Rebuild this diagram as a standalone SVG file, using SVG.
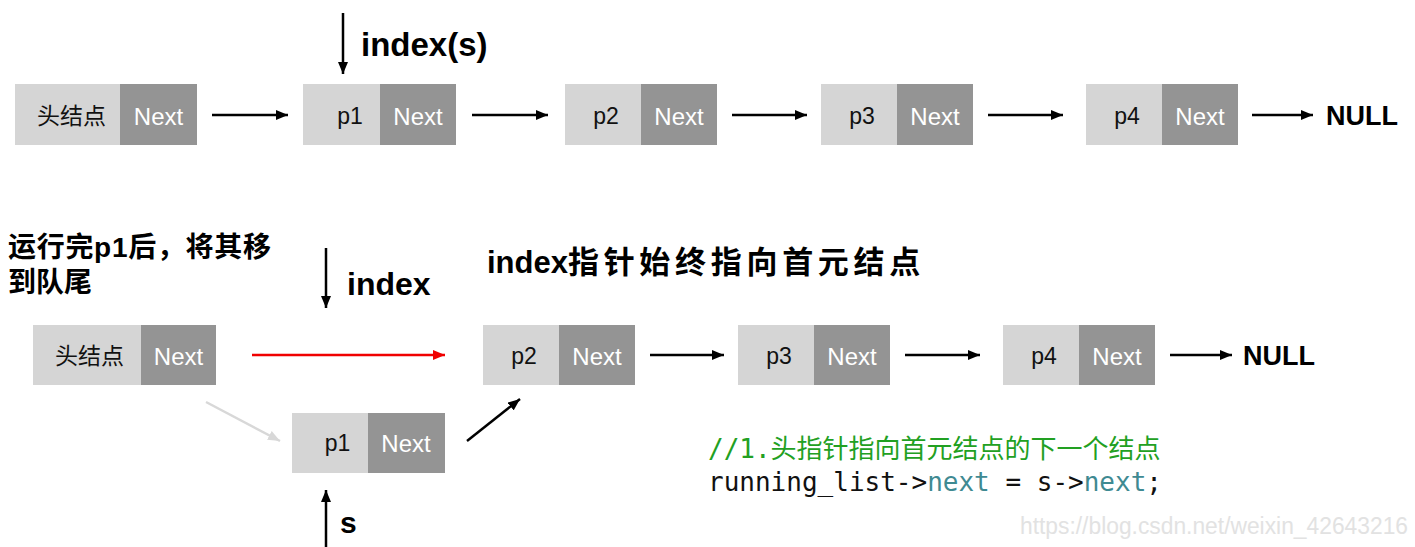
<svg xmlns="http://www.w3.org/2000/svg" width="1415" height="547" viewBox="0 0 1415 547">
<style>
.lt{fill:#d5d5d5}
.dk{fill:#949494}
.nx{font-family:"Liberation Sans",Arial,sans-serif;font-size:24px;fill:#ffffff;text-anchor:middle}
.pl{font-family:"Liberation Sans",Arial,sans-serif;font-size:23px;fill:#111;text-anchor:middle}
.hd{font-family:"Liberation Sans","Noto Sans CJK SC",sans-serif;font-size:23px;fill:#111;text-anchor:middle}
.bd{font-family:"Liberation Sans","Noto Sans CJK SC",sans-serif;font-weight:bold;fill:#000}
.ln{stroke:#000;stroke-width:2.5;fill:none}
.code{font-family:"DejaVu Sans Mono","Noto Sans CJK SC",monospace;font-size:26px}
</style>
<defs>
<marker id="ah" viewBox="0 0 12 10" refX="12" refY="5" markerWidth="12" markerHeight="10" markerUnits="userSpaceOnUse" orient="auto"><path d="M0,0 L12,5 L0,10 Z" fill="#000"/></marker>
<marker id="ahr" viewBox="0 0 12 10" refX="12" refY="5" markerWidth="12" markerHeight="10" markerUnits="userSpaceOnUse" orient="auto"><path d="M0,0 L12,5 L0,10 Z" fill="#f00000"/></marker>
<marker id="ahg" viewBox="0 0 12 10" refX="12" refY="5" markerWidth="12" markerHeight="10" markerUnits="userSpaceOnUse" orient="auto"><path d="M0,0 L12,5 L0,10 Z" fill="#d8d8d8"/></marker>
</defs>

<!-- Top row -->
<g id="top-head"><rect class="lt" x="15" y="84" width="105" height="61"/><rect class="dk" x="120" y="84" width="77" height="61"/><text class="hd" x="71.5" y="124">头结点</text><text class="nx" x="158.5" y="125">Next</text></g>
<g id="top-p1"><rect class="lt" x="303" y="84" width="77" height="61"/><rect class="dk" x="380" y="84" width="76" height="61"/><text class="pl" x="350" y="124">p1</text><text class="nx" x="418" y="125">Next</text></g>
<g id="top-p2"><rect class="lt" x="565" y="84" width="76" height="61"/><rect class="dk" x="641" y="84" width="76" height="61"/><text class="pl" x="606" y="124">p2</text><text class="nx" x="679" y="125">Next</text></g>
<g id="top-p3"><rect class="lt" x="821" y="84" width="76" height="61"/><rect class="dk" x="897" y="84" width="76" height="61"/><text class="pl" x="862" y="124">p3</text><text class="nx" x="935" y="125">Next</text></g>
<g id="top-p4"><rect class="lt" x="1086" y="84" width="76" height="61"/><rect class="dk" x="1162" y="84" width="76" height="61"/><text class="pl" x="1127" y="124">p4</text><text class="nx" x="1200" y="125">Next</text></g>
<g id="top-null"><text class="bd" x="1326" y="125" font-size="27">NULL</text></g>
<g id="top-index"><text class="bd" x="361" y="56" font-size="33">index(s)</text></g>

<!-- Bottom row -->
<g id="note"><text class="bd" x="8" y="257" font-size="28" letter-spacing="0.7">运行完p1后，将其移</text><text class="bd" x="8" y="292" font-size="28">到队尾</text></g>
<g id="title"><text class="bd" x="487" y="273" font-size="31">index<tspan letter-spacing="4.7">指针始终指向首元结点</tspan></text></g>
<g id="bot-index"><text class="bd" x="347" y="295" font-size="32">index</text></g>
<g id="bot-head"><rect class="lt" x="33" y="325" width="108" height="60"/><rect class="dk" x="141" y="325" width="75" height="60"/><text class="hd" x="89.5" y="364">头结点</text><text class="nx" x="178.5" y="365">Next</text></g>
<g id="bot-p2"><rect class="lt" x="483" y="325" width="76" height="60"/><rect class="dk" x="559" y="325" width="76" height="60"/><text class="pl" x="524" y="364">p2</text><text class="nx" x="597" y="365">Next</text></g>
<g id="bot-p3"><rect class="lt" x="738" y="325" width="76" height="60"/><rect class="dk" x="814" y="325" width="76" height="60"/><text class="pl" x="779" y="364">p3</text><text class="nx" x="852" y="365">Next</text></g>
<g id="bot-p4"><rect class="lt" x="1003" y="325" width="76" height="60"/><rect class="dk" x="1079" y="325" width="76" height="60"/><text class="pl" x="1044" y="364">p4</text><text class="nx" x="1117" y="365">Next</text></g>
<g id="bot-null"><text class="bd" x="1243" y="365" font-size="27">NULL</text></g>
<g id="bot-p1"><rect class="lt" x="292" y="413" width="76" height="60"/><rect class="dk" x="368" y="413" width="77" height="60"/><text class="pl" x="337.5" y="451">p1</text><text class="nx" x="406" y="452">Next</text></g>
<g id="bot-s"><text class="bd" x="340" y="533" font-size="30">s</text></g>

<g id="code">
<text class="code" x="708" y="458" fill="#22a022">//1.头指针指向首元结点的下一个结点</text>
<text class="code" x="708" y="491" fill="#111">running_list-&gt;<tspan fill="#3f8a92">next</tspan> = s-&gt;<tspan fill="#3f8a92">next</tspan>;</text>
</g>
<g id="watermark"><text x="1020" y="534" font-family="Liberation Sans,Arial,sans-serif" font-size="23" fill="#e2e2e2" textLength="388" lengthAdjust="spacingAndGlyphs">https://blog.csdn.net/weixin_42643216</text></g>

<g id="connectors">
<line class="ln" x1="343" y1="13" x2="343" y2="74" marker-end="url(#ah)"/>
<line class="ln" x1="212" y1="115" x2="288" y2="115" marker-end="url(#ah)"/>
<line class="ln" x1="472" y1="115" x2="548" y2="115" marker-end="url(#ah)"/>
<line class="ln" x1="732" y1="115" x2="807" y2="115" marker-end="url(#ah)"/>
<line class="ln" x1="988" y1="115" x2="1063" y2="115" marker-end="url(#ah)"/>
<line class="ln" x1="1252" y1="115" x2="1313" y2="115" marker-end="url(#ah)"/>
<line class="ln" x1="326" y1="248" x2="326" y2="308" marker-end="url(#ah)"/>
<line x1="252" y1="355" x2="445" y2="355" stroke="#f00000" stroke-width="2.5" marker-end="url(#ahr)"/>
<line class="ln" x1="650" y1="355" x2="724" y2="355" marker-end="url(#ah)"/>
<line class="ln" x1="905" y1="355" x2="980" y2="355" marker-end="url(#ah)"/>
<line class="ln" x1="1170" y1="355" x2="1232" y2="355" marker-end="url(#ah)"/>
<line x1="206" y1="402" x2="280" y2="441" stroke="#d8d8d8" stroke-width="2.5" marker-end="url(#ahg)"/>
<line class="ln" x1="467" y1="441" x2="520" y2="399" marker-end="url(#ah)"/>
<line class="ln" x1="326" y1="547" x2="326" y2="490" marker-end="url(#ah)"/>
</g>
</svg>
